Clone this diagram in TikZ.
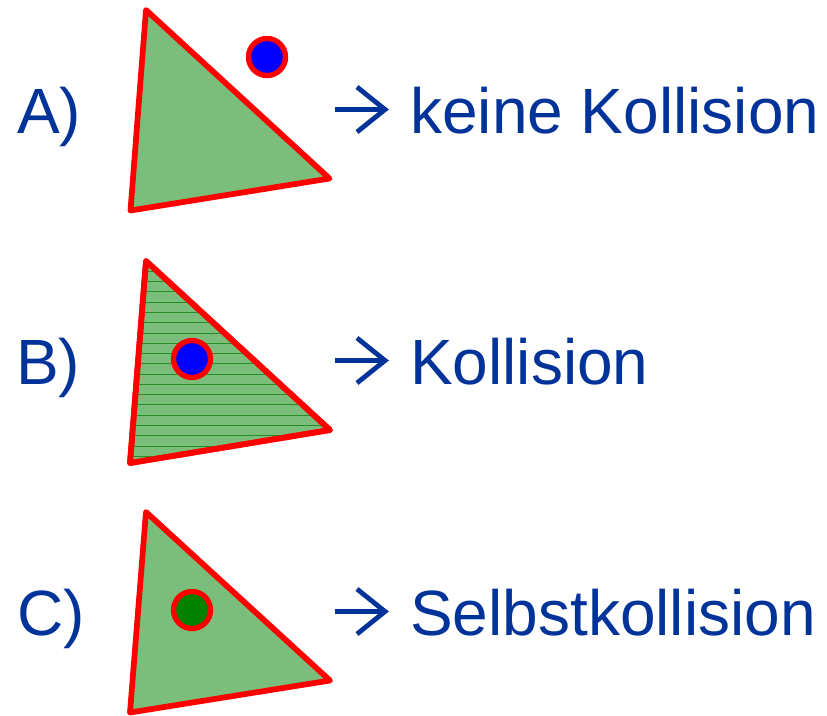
\documentclass[tikz,border=0pt]{standalone}
\usepackage{fontspec}
\setmainfont{Liberation Sans}
\definecolor{txtblue}{RGB}{0,51,153}
\definecolor{trifill}{RGB}{123,190,123}
\definecolor{hatch}{RGB}{40,140,40}
\definecolor{dotgreen}{RGB}{0,128,0}
\begin{document}
\begin{tikzpicture}[x=0.75pt,y=-0.75pt,
  tri/.style={draw=red,line width=4.3pt,line join=round,fill=trifill},
  dot/.style={circle,draw=red,line width=4pt,minimum size=27.75pt,inner sep=0pt},
  lbl/.style={anchor=base west,inner sep=0pt,text=txtblue,font=\fontsize{48}{56}\selectfont},
  arr/.style={draw=txtblue,line width=3.6pt}]
\useasboundingbox (0,0) rectangle (827,715);
% Row A
\filldraw[tri] (146,10) -- (329.5,178.5) -- (130.5,210.5) -- cycle;
\node[dot,fill=blue] (dA) at (267,57) {};
\node[lbl] (lA) at (17,133) {A)};
\coordinate (aA1) at (335,109.5);
\coordinate (aA2) at (385,109.5);
\draw[arr] (aA1) -- (aA2);
\draw[arr,line join=miter] (357,87) -- (385,109.5) -- (357,132);
\node[lbl] (tA) at (410,133) {keine Kollision};
% Row B
\filldraw[tri] (146,261) -- (330,430) -- (130,463) -- cycle;
\begin{scope}
\clip (146,261) -- (330,430) -- (130,463) -- cycle;
\foreach \k in {0,...,19} {
  \draw[hatch,line width=0.7pt] (120,271.4+10.27*\k) -- (340,271.4+10.27*\k);
}
\end{scope}
\draw[draw=red,line width=4.3pt,line join=round] (146,261) -- (330,430) -- (130,463) -- cycle;
\node[dot,fill=blue] (dB) at (192,359) {};
\node[lbl] (lB) at (16,384) {B)};
\coordinate (aB1) at (335,360.5);
\coordinate (aB2) at (385,360.5);
\draw[arr] (aB1) -- (aB2);
\draw[arr,line join=miter] (357,338) -- (385,360.5) -- (357,383);
\node[lbl] (tB) at (410,384) {Kollision};
% Row C
\filldraw[tri] (146,512) -- (330,680.5) -- (130,712.5) -- cycle;
\node[dot,fill=dotgreen] (dC) at (192,610) {};
\node[lbl] (lC) at (17,635) {C)};
\coordinate (aC1) at (335,611.5);
\coordinate (aC2) at (385,611.5);
\draw[arr] (aC1) -- (aC2);
\draw[arr,line join=miter] (357,589) -- (385,611.5) -- (357,634);
\node[lbl] (tC) at (410,635) {Selbstkollision};
\end{tikzpicture}
\end{document}
